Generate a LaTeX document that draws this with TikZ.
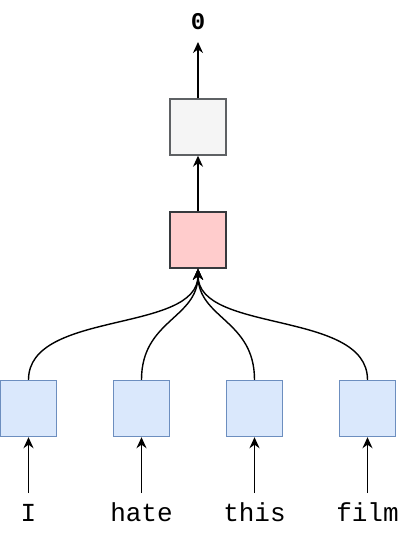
\documentclass[tikz,border=0pt]{standalone}
\usepackage{fontspec}
\setmonofont{Liberation Mono}
\usetikzlibrary{arrows.meta}
\definecolor{bluefill}{HTML}{DAE8FC}
\definecolor{blueline}{HTML}{6C8EBF}
\definecolor{pinkfill}{HTML}{FFCCCC}
\definecolor{grayfill}{HTML}{F5F5F5}
\definecolor{darkline}{HTML}{36393D}
\begin{document}
\begin{tikzpicture}[x=0.5pt,y=-0.5pt,
  box/.style={draw, line width=0.7pt, minimum width=28pt, minimum height=28pt, inner sep=0pt},
  inbox/.style={box, fill=bluefill, draw=blueline},
  conn/.style={line width=0.7pt, -{Stealth[length=5.5pt,width=5pt]}},
  word/.style={font=\fontsize{13}{15}\selectfont\ttfamily, inner sep=0pt, anchor=base}]
\useasboundingbox (0,0) rectangle (400,538);
\node[box, fill=grayfill, draw=darkline!80] (g) at (198,127) {};
\node[box, fill=pinkfill, draw=darkline] (p) at (198,240) {};
\node[inbox] (b1) at (28.5,408.5) {};
\node[inbox] (b2) at (141.5,408.5) {};
\node[inbox] (b3) at (254.5,408.5) {};
\node[inbox] (b4) at (367.5,408.5) {};
\node[word, font=\fontsize{12}{14}\selectfont\ttfamily\bfseries] (o) at (198,29.5) {0};
\node[word] (w1) at (28.5,521) {I};
\node[word] (w2) at (141.5,521) {hate};
\node[word] (w3) at (254.5,521) {this};
\node[word] (w4) at (367.5,521) {film};
\coordinate (ot) at (198,42);
\coordinate (s1) at (28.5,493);
\coordinate (s2) at (141.5,493);
\coordinate (s3) at (254.5,493);
\coordinate (s4) at (367.5,493);
\draw[conn] (g.north) -- (ot);
\draw[conn] (p.north) -- (g.south);
\draw[conn] (s1) -- (b1.south);
\draw[conn] (s2) -- (b2.south);
\draw[conn] (s3) -- (b3.south);
\draw[conn] (s4) -- (b4.south);
\draw[conn] (b1.north) .. controls +(0,-70) and +(0,65) .. (p.south);
\draw[conn] (b2.north) .. controls +(0,-60) and +(0,50) .. (p.south);
\draw[conn] (b3.north) .. controls +(0,-60) and +(0,50) .. (p.south);
\draw[conn] (b4.north) .. controls +(0,-70) and +(0,65) .. (p.south);
\end{tikzpicture}
\end{document}
